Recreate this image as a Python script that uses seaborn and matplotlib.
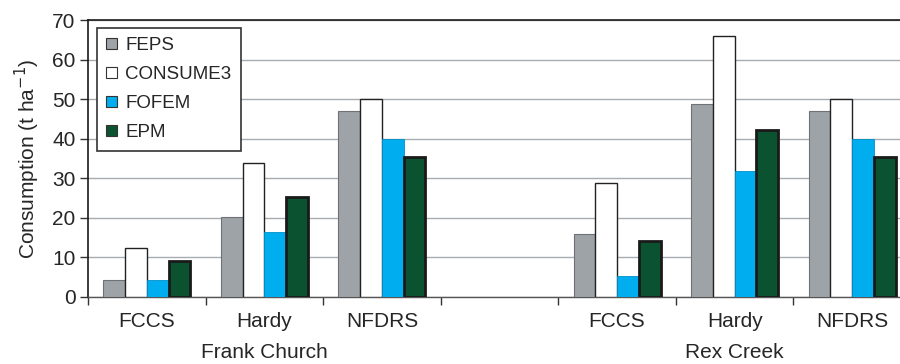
import matplotlib
matplotlib.use("Agg")
import matplotlib.pyplot as plt
import seaborn as sns
import pandas as pd
from matplotlib.patches import Patch

# Fuel consumption estimates by model, site and fuel-loading method
sites = ["Frank Church", "Rex Creek"]
methods = ["FCCS", "Hardy", "NFDRS"]
models = ["FEPS", "CONSUME3", "FOFEM", "EPM"]

frank_church = {
    "FEPS":     [4.4, 20.1, 47.0],
    "CONSUME3": [12.3, 33.9, 50.0],
    "FOFEM":    [4.2, 16.3, 40.0],
    "EPM":      [9.2, 25.3, 35.5],
}
rex_creek = {
    "FEPS":     [15.8, 48.7, 47.0],
    "CONSUME3": [28.9, 65.9, 50.0],
    "FOFEM":    [5.2, 31.9, 40.0],
    "EPM":      [14.1, 42.3, 35.5],
}

fill_colors = {"FEPS": "#9ea3a8", "CONSUME3": "#ffffff", "FOFEM": "#00aeef", "EPM": "#0a5230"}
edge_colors = {"FEPS": "#6e7276", "CONSUME3": "#222222", "FOFEM": "#0090c8", "EPM": "#1a1a1a"}
edge_widths = {"FEPS": 0.8, "CONSUME3": 1.0, "FOFEM": 0.6, "EPM": 2.0}

rows = []
for site, table in zip(sites, [frank_church, rex_creek]):
    for i, m in enumerate(methods):
        for model in models:
            rows.append({"slot": f"{site}|{m}", "model": model, "value": table[model][i]})
df = pd.DataFrame(rows)

order = [f"{sites[0]}|{m}" for m in methods] + ["gap"] + [f"{sites[1]}|{m}" for m in methods]

sns.set_style("white")
plt.rcParams["font.family"] = ["Liberation Sans", "DejaVu Sans"]

fig = plt.figure(figsize=(9, 3.64), dpi=100)
ax = fig.add_axes([88 / 900, 67 / 364, 823 / 900, 277 / 364])

sns.barplot(data=df, x="slot", y="value", hue="model", order=order, hue_order=models,
            palette=fill_colors, width=0.74, saturation=1, ax=ax, legend=False, zorder=3)

for model, container in zip(models, ax.containers):
    for bar in container:
        bar.set_edgecolor(edge_colors[model])
        bar.set_linewidth(edge_widths[model])

ax.set_ylim(0, 70)
ax.set_xlim(-0.5, 6.5)
ax.set_yticks(range(0, 71, 10))
ax.yaxis.grid(True, color="#a8acb0", linewidth=1.0, zorder=0)
ax.set_axisbelow(True)

# tick marks at slot boundaries, labels at slot centres
ax.set_xticks([i - 0.5 for i in range(8)])
ax.set_xticklabels([])
centers = [0, 1, 2, 4, 5, 6]
ax.set_xticks(centers, minor=True)
ax.set_xticklabels(methods + methods, minor=True)
ax.tick_params(axis="x", which="major", direction="out", length=6, width=1, color="#333333", bottom=True)
ax.tick_params(axis="x", which="minor", length=0, pad=11, labelsize=15)
ax.tick_params(axis="y", direction="out", length=6, width=1, color="#333333", left=True, labelsize=15, pad=3)

for side in ["left", "top"]:
    ax.spines[side].set_color("#1a1a1a")
    ax.spines[side].set_linewidth(1.2)
ax.spines["bottom"].set_color("#555555")
ax.spines["bottom"].set_linewidth(1.0)
ax.spines["right"].set_visible(False)

ax.set_xlabel("")
ax.set_ylabel("Consumption (t ha$^{-1}$)", fontsize=15, labelpad=7)

for site, xc in zip(sites, [1, 5]):
    ax.text(xc, -0.2, site, transform=ax.get_xaxis_transform(), ha="center", va="center", fontsize=15)

handles = [Patch(facecolor=fill_colors[m], edgecolor="#333333", linewidth=0.8, label=m) for m in models]
leg = ax.legend(handles=handles, loc="upper left", bbox_to_anchor=(0.011, 0.971), fontsize=13.5,
                handlelength=0.55, handleheight=0.55, handletextpad=0.45, labelspacing=0.64,
                borderpad=0.5, borderaxespad=0, fancybox=False, framealpha=1, edgecolor="#333333")
leg.get_frame().set_linewidth(1.2)

fig.savefig("out.png", dpi=100)
